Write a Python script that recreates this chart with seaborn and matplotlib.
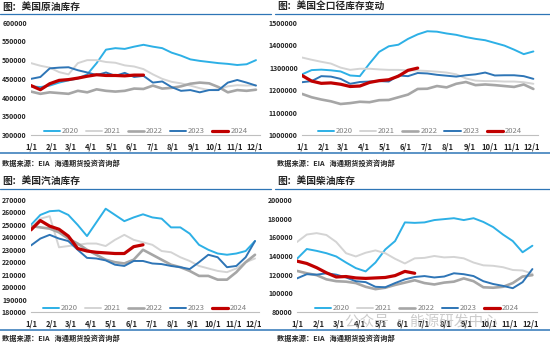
import numpy as np
import pandas as pd
import matplotlib
matplotlib.use("Agg")
import matplotlib.pyplot as plt
from matplotlib.ticker import FuncFormatter
import seaborn as sns

sns.set_theme(style="white")
plt.rcParams['font.family'] = ['Noto Sans CJK SC', 'DejaVu Sans']

# ---------------- data (biweekly samples, day = 14 * index) ----------------
years = ["2020", "2021", "2022", "2023", "2024"]
month_days = [0, 31, 59, 90, 120, 151, 181, 212, 243, 273, 304, 334]
month_labels = ["1/1", "2/1", "3/1", "4/1", "5/1", "6/1", "7/1", "8/1", "9/1", "10/1", "11/1", "12/1"]

crude_2020 = [430000, 428000, 432000, 440000, 446000, 451000, 462000, 492000, 528000, 532000, 530000, 536000, 541000,
              536000, 532000, 520000, 512000, 502000, 498000, 495000, 492000, 490000, 487000, 489000, 500000]
crude_2021 = [492000, 485000, 480000, 468000, 462000, 492000, 500000, 500000, 495000, 493000, 486000, 483000, 476000,
              462000, 450000, 442000, 438000, 432000, 425000, 420000, 422000, 430000, 433000, 432000, 433000]
crude_2022 = [416000, 410000, 414000, 412000, 410000, 418000, 414000, 422000, 418000, 416000, 418000, 424000, 423000,
              432000, 424000, 426000, 430000, 437000, 440000, 438000, 428000, 414000, 420000, 418000, 421000]
crude_2023 = [450000, 455000, 478000, 480000, 481000, 473000, 467000, 460000, 467000, 458000, 466000, 455000, 458000,
              440000, 443000, 428000, 418000, 420000, 414000, 420000, 420000, 440000, 447000, 440000, 432000]
crude_2024 = [432000, 421000, 437000, 446000, 448000, 452000, 457000, 461000, 459000, 459000, 458000, 460000, 460000]

total_2020 = [1270000, 1289000, 1291000, 1288000, 1283000, 1265000, 1262000, 1318000, 1370000, 1395000, 1402000, 1428000,
              1448000, 1462000, 1460000, 1452000, 1446000, 1436000, 1428000, 1422000, 1410000, 1398000, 1380000, 1360000, 1372000]
total_2021 = [1345000, 1335000, 1326000, 1318000, 1300000, 1290000, 1295000, 1295000, 1292000, 1290000, 1290000, 1288000,
              1287000, 1285000, 1282000, 1278000, 1270000, 1252000, 1242000, 1240000, 1240000, 1238000, 1238000, 1235000, 1228000]
total_2022 = [1183000, 1168000, 1158000, 1150000, 1138000, 1142000, 1148000, 1146000, 1155000, 1156000, 1168000, 1180000,
              1205000, 1206000, 1218000, 1212000, 1228000, 1236000, 1222000, 1225000, 1222000, 1218000, 1214000, 1225000, 1205000]
total_2023 = [1235000, 1240000, 1262000, 1260000, 1250000, 1228000, 1236000, 1238000, 1240000, 1238000, 1265000, 1262000,
              1276000, 1274000, 1268000, 1264000, 1260000, 1266000, 1270000, 1278000, 1265000, 1266000, 1266000, 1262000, 1250000]
total_2024 = [1265000, 1240000, 1230000, 1232000, 1226000, 1216000, 1218000, 1234000, 1242000, 1246000, 1262000, 1288000, 1298000]

gas_2020 = [250000, 258000, 261000, 261500, 258000, 250000, 241000, 252000, 263000, 258000, 253000, 256000, 258500,
            256000, 255000, 248000, 248000, 243000, 234000, 230000, 227000, 226000, 227000, 229000, 237000]
gas_2021 = [248000, 255000, 257000, 232000, 233000, 234000, 235000, 235000, 233000, 238000, 242000, 238000, 236000,
            234000, 229000, 228000, 224000, 221000, 217000, 215000, 213000, 212000, 215000, 220000, 223000]
gas_2022 = [249000, 248000, 247000, 244000, 239000, 235000, 230000, 226000, 222000, 220000, 219000, 222000, 230000,
            226000, 222000, 218000, 216000, 213000, 209000, 209000, 206000, 206000, 212000, 220000, 226000]
gas_2023 = [233500, 239000, 242000, 239000, 237000, 230000, 223500, 223000, 221500, 218000, 217000, 221000, 221000,
            219000, 218500, 217000, 216000, 214500, 220000, 226000, 224000, 216000, 217000, 224000, 237000]
gas_2024 = [246000, 253500, 249000, 246500, 241000, 231000, 229000, 228000, 227500, 227000, 227000, 232500, 234000]

dist_2020 = [137000, 147500, 145500, 143000, 139500, 133000, 127000, 123500, 133000, 147000, 156000, 176000, 175500,
             176000, 178500, 179500, 180500, 178500, 180500, 176500, 171000, 163000, 156000, 144000, 151000]
dist_2021 = [155000, 163000, 164500, 162500, 155000, 143000, 139500, 143500, 146000, 143000, 137000, 132000, 137500,
             138000, 140000, 138500, 139000, 137500, 133000, 130000, 129500, 128000, 125000, 124500, 121000]
dist_2022 = [124000, 121500, 119500, 115000, 113000, 112500, 111000, 107000, 104500, 106000, 109000, 111500, 114000,
             111000, 109500, 111500, 112500, 116000, 113000, 106500, 106000, 107000, 111000, 118000, 119500]
dist_2023 = [116000, 120500, 120000, 121500, 120000, 117000, 113000, 112000, 107000, 106500, 111000, 115000, 117500,
             118500, 117000, 118000, 121500, 120500, 118500, 113000, 110000, 108000, 105500, 112000, 126000]
dist_2024 = [134500, 132000, 127500, 122000, 117500, 118000, 116500, 116000, 116500, 117000, 119000, 123500, 121500]

panels = [
    dict(title="图：美国原油库存", series=[crude_2020, crude_2021, crude_2022, crude_2023, crude_2024],
         yticks=list(range(300000, 600001, 50000))),
    dict(title="图：美国全口径库存变动", series=[total_2020, total_2021, total_2022, total_2023, total_2024],
         yticks=list(range(1000000, 1500001, 100000))),
    dict(title="图：美国汽油库存", series=[gas_2020, gas_2021, gas_2022, gas_2023, gas_2024],
         yticks=list(range(180000, 270001, 10000))),
    dict(title="图：美国柴油库存", series=[dist_2020, dist_2021, dist_2022, dist_2023, dist_2024],
         yticks=list(range(80000, 200001, 20000))),
]
source_text = "数据来源：EIA   海通期货投资咨询部"

# ---------------- styling ----------------
colors = ["#2DB0E6", "#D4D4D4", "#A6A6A6", "#2E75B6", "#C00000"]
widths = [1.4, 1.4, 1.9, 1.4, 2.3]

W, H = 550, 345
fig = plt.figure(figsize=(W / 100, H / 100), dpi=100)
fig.patch.set_facecolor("white")

# axes pixel boxes: left, top, right, bottom
boxes = [(31, 22.7, 260, 135), (302, 22.7, 537.5, 135), (31, 200, 259, 312), (297, 200, 536.6, 312)]
title_pos = [(2, 7), (277, 7), (2, 181), (277, 181)]
title_line_y = [13.5, 13.5, 189, 189]
title_line_x = [(0, 271), (275, 550), (0, 271), (275, 550)]
src_y = [163, 163, 338, 338]
bottom_line_y = [153, 330]

XMAX = 342

for k, p in enumerate(panels):
    l, t, r, b = boxes[k]
    ax = fig.add_axes([l / W, 1 - b / H, (r - l) / W, (b - t) / H])
    for j, (yr, vals) in enumerate(zip(years, p["series"])):
        days = [14 * i for i in range(len(vals))]
        sns.lineplot(x=days, y=vals, ax=ax, color=colors[j], lw=widths[j], label=yr, zorder=2 + j)
    ax.set_xlim(0, XMAX)
    ax.set_ylim(p["yticks"][0], p["yticks"][-1])
    ax.set_yticks(p["yticks"])
    ax.yaxis.set_major_formatter(FuncFormatter(lambda v, pos: f"{int(v)}"))
    ax.set_xticks(month_days)
    ax.set_xticklabels(month_labels)
    for s in ["top", "right", "left"]:
        ax.spines[s].set_visible(False)
    ax.spines["bottom"].set_color("#BFBFBF")
    ax.spines["bottom"].set_linewidth(0.8)
    ax.tick_params(axis="x", length=2.5, width=0.6, color="#BFBFBF", pad=3, labelsize=5.5, labelcolor="#262626")
    ax.tick_params(axis="y", length=0, pad=3, labelsize=5, labelcolor="#262626")
    for lab in ax.get_xticklabels() + ax.get_yticklabels():
        lab.set_fontweight("bold")
    ax.set_xlabel("")
    ax.set_ylabel("")
    ax.grid(False)
    ax.set_facecolor("white")
    leg = ax.legend(loc="lower center", bbox_to_anchor=(0.5, -0.03), ncol=5, frameon=False,
                    fontsize=5.5, handlelength=2.1, columnspacing=0.95, handletextpad=0.25,
                    labelcolor="#7F7F7F", borderaxespad=0)

    tx, ty = title_pos[k]
    fig.text(tx / W, 1 - ty / H, p["title"], fontsize=7, fontweight="bold", color="#262626",
             ha="left", va="center")
    x0, x1 = title_line_x[k]
    fig.add_artist(plt.Line2D([x0 / W, x1 / W], [1 - title_line_y[k] / H] * 2, color="#2E75B6", lw=0.9))
    fig.text(tx / W, 1 - src_y[k] / H, source_text, fontsize=5.2, fontweight="bold", color="#262626",
             ha="left", va="center")

for yb in bottom_line_y:
    fig.add_artist(plt.Line2D([0, 1], [1 - yb / H] * 2, color="#2E75B6", lw=1.1))

# watermark
fig.text(345 / W, 1 - 323 / H, "公众号 · 能源研发中心", fontsize=10.5, color="#9A9A9A", alpha=0.5,
         ha="left", va="center", zorder=0)

fig.savefig("out.png", dpi=100, facecolor="white")
